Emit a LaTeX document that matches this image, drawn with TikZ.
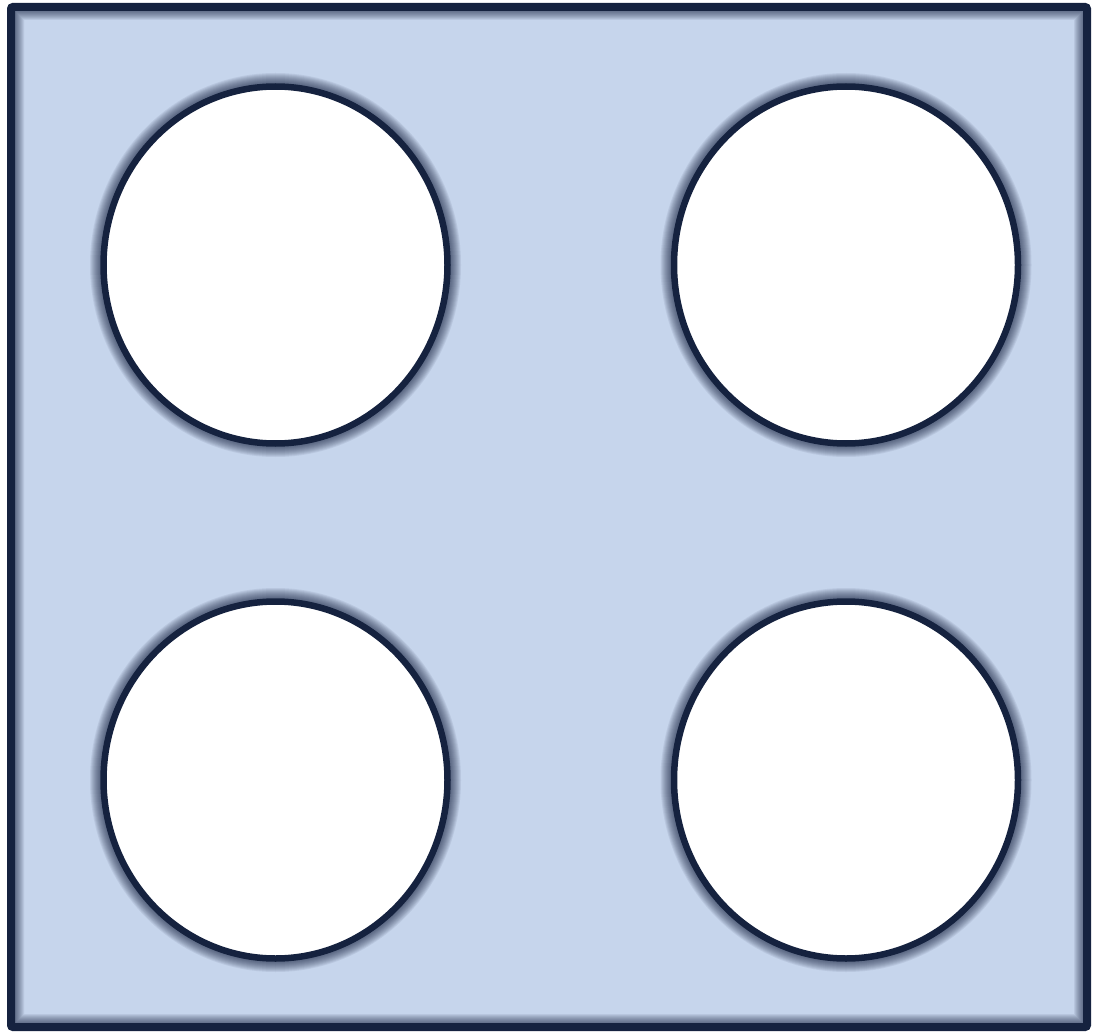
\documentclass[tikz,border=0pt]{standalone}
\usetikzlibrary{calc}
\definecolor{navy}{HTML}{15223F}
\definecolor{paleblue}{HTML}{C6D5EC}
\begin{document}
\begin{tikzpicture}[x=1pt,y=-1pt]
            \def\rx{172}
            \def\ry{178.5}
            \useasboundingbox (0,0) rectangle (1106,1035);
            \coordinate (p1) at (11,7);
            \coordinate (p2) at (1087,1027);
            \coordinate (c1) at (275.5,265);
            \coordinate (c2) at (846,265);
            \coordinate (c3) at (275.5,780);
            \coordinate (c4) at (846,780);
            %Plate
            \fill[paleblue] (p1) rectangle (p2);
            %Glow inside the border
            \begin{scope}
            \clip (p1) rectangle (p2);
            \foreach \w in {26,24,...,10}
                \draw[navy,opacity=0.08,line width=\w pt,rounded corners=5pt] (p1) rectangle (p2);
            \end{scope}
            %Glow round the holes
            \foreach \c in {c1,c2,c3,c4}{
                \foreach \w in {27,25,...,9}
                    \draw[navy,opacity=0.08,line width=\w pt] (\c) ellipse ({\rx} and {\ry});
            }
            %Holes
            \foreach \c in {c1,c2,c3,c4}
                \filldraw[fill=white,draw=navy,line width=6.5pt] (\c) ellipse ({\rx} and {\ry});
            %Border
            \draw[navy,line width=8pt,rounded corners=2pt] (p1) rectangle (p2);
        \end{tikzpicture}
\end{document}
